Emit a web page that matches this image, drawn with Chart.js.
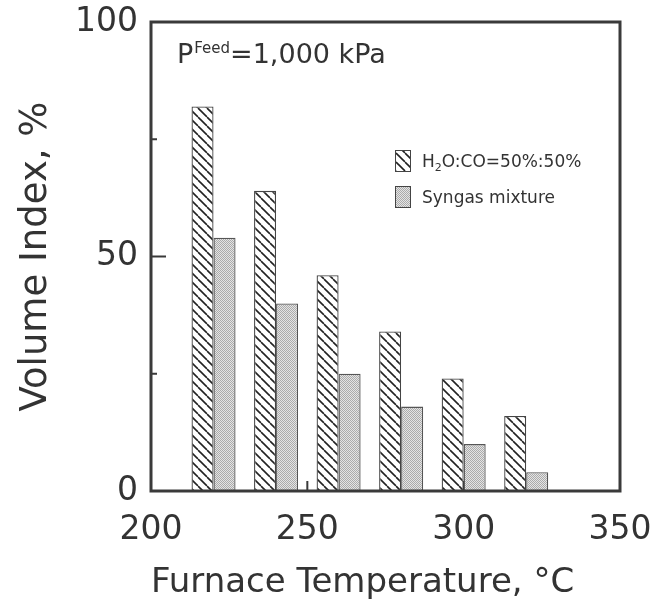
<!DOCTYPE html>
<html>
<head>
<meta charset="utf-8">
<title>Volume Index vs Furnace Temperature</title>
<script src="https://cdn.jsdelivr.net/npm/chart.js@4.4.1/dist/chart.umd.min.js"></script>
<style>
    html, body { margin: 0; padding: 0; background: #fff; }
    #wrap { width: 653px; height: 606px; }
</style>
</head>
<body>
<div id="wrap"><canvas id="chart" width="653" height="606"></canvas></div>
<script>
(function () {
    'use strict';

    // ── Data ──────────────────────────────────────────────────
    var temperatures = [220, 240, 260, 280, 300, 320];
    var h2oCoValues  = [82, 64, 46, 34, 24, 16];
    var syngasValues = [54, 40, 25, 18, 10, 4];
    var seriesLabels = ['H₂O:CO=50%:50%', 'Syngas mixture'];
    var xTicks       = [200, 250, 300, 350];
    var yTicks       = [0, 50, 100];
    var yMinorTicks  = [25, 75];
    var xMinorTicks  = [225, 275, 325];

    var INK  = '#3a3a3a';
    var TEXT = '#333';
    var FONT = '"DejaVu Sans", Verdana, sans-serif';

    // ── Fill patterns ─────────────────────────────────────────
    function hatchPattern() {
        var s = 9;
        var c = document.createElement('canvas');
        c.width = s; c.height = s;
        var g = c.getContext('2d');
        g.fillStyle = '#fff';
        g.fillRect(0, 0, s, s);
        g.strokeStyle = '#222';
        g.lineWidth = 1.6;
        for (var k = -1; k <= 1; k++) {
            g.beginPath();
            g.moveTo(k * s, 0);
            g.lineTo(k * s + s, s);
            g.stroke();
        }
        return g.createPattern(c, 'repeat');
    }

    function stipplePattern() {
        var c = document.createElement('canvas');
        c.width = 2; c.height = 2;
        var g = c.getContext('2d');
        g.fillStyle = '#e4e4e4';
        g.fillRect(0, 0, 2, 2);
        g.fillStyle = '#ababab';
        g.fillRect(0, 0, 1, 1);
        g.fillRect(1, 1, 1, 1);
        return g.createPattern(c, 'repeat');
    }

    function points(values) {
        return temperatures.map(function (t, i) { return { x: t, y: values[i] }; });
    }

    // ── Frame, inward ticks, annotation and legend ────────────
    var framePlugin = {
        id: 'frame',
        beforeDatasetsDraw: function (chart) {
            var ctx = chart.ctx, a = chart.chartArea;
            var xs = chart.scales.x, ys = chart.scales.y;
            ctx.save();
            ctx.strokeStyle = INK;
            ctx.lineWidth = 2;
            ctx.beginPath();
            yTicks.forEach(function (v) {
                var py = ys.getPixelForValue(v);
                ctx.moveTo(a.left, py); ctx.lineTo(a.left + 15, py);
            });
            yMinorTicks.forEach(function (v) {
                var py = ys.getPixelForValue(v);
                ctx.moveTo(a.left, py); ctx.lineTo(a.left + 6, py);
            });
            xTicks.forEach(function (v) {
                var px = xs.getPixelForValue(v);
                ctx.moveTo(px, a.bottom); ctx.lineTo(px, a.bottom - 10);
            });
            xMinorTicks.forEach(function (v) {
                var px = xs.getPixelForValue(v);
                ctx.moveTo(px, a.bottom); ctx.lineTo(px, a.bottom - 5);
            });
            ctx.stroke();
            ctx.restore();
        },
        afterDatasetsDraw: function (chart) {
            var ctx = chart.ctx, a = chart.chartArea;
            ctx.save();
            ctx.strokeStyle = INK;
            ctx.lineWidth = 3;
            ctx.strokeRect(a.left, a.top, a.right - a.left, a.bottom - a.top);

            // P^Feed = 1,000 kPa
            ctx.fillStyle = TEXT;
            ctx.textBaseline = 'alphabetic';
            var x = a.left + 26, y = a.top + 41;
            ctx.font = '27px ' + FONT;
            ctx.fillText('P', x, y);
            x += ctx.measureText('P').width + 1;
            ctx.font = '15px ' + FONT;
            ctx.fillText('Feed', x, y - 10);
            x += ctx.measureText('Feed').width;
            ctx.font = '27px ' + FONT;
            ctx.fillText('=1,000 kPa', x, y);

            // legend
            var bx = a.left + 244, by = a.top + 128;
            chart.data.datasets.forEach(function (ds, i) {
                var top = by + i * 36;
                ctx.fillStyle = ds.backgroundColor;
                ctx.fillRect(bx, top, 16, 22);
                ctx.strokeStyle = '#444';
                ctx.lineWidth = 1;
                ctx.strokeRect(bx + 0.5, top + 0.5, 15, 21);

                ctx.fillStyle = TEXT;
                var tx = bx + 27, ty = top + 17;
                var label = ds.label;
                var sub = label.indexOf('₂');
                ctx.font = '17px ' + FONT;
                if (sub >= 0) {
                    var head = label.slice(0, sub), tail = label.slice(sub + 1);
                    ctx.fillText(head, tx, ty);
                    tx += ctx.measureText(head).width;
                    ctx.font = '11px ' + FONT;
                    ctx.fillText('2', tx, ty + 4);
                    tx += ctx.measureText('2').width;
                    ctx.font = '17px ' + FONT;
                    ctx.fillText(tail, tx, ty);
                } else {
                    ctx.fillText(label, tx, ty);
                }
            });
            ctx.restore();
        }
    };

    new Chart(document.getElementById('chart'), {
        type: 'bar',
        data: {
            datasets: [{
                label: seriesLabels[0],
                data: points(h2oCoValues),
                backgroundColor: hatchPattern(),
                borderColor: '#444',
                borderWidth: 1.3
            }, {
                label: seriesLabels[1],
                data: points(syngasValues),
                backgroundColor: stipplePattern(),
                borderColor: '#555',
                borderWidth: 1.3
            }]
        },
        options: {
            responsive: false,
            animation: false,
            categoryPercentage: 0.704,
            barPercentage: 1,
            layout: { padding: { top: 22, right: 33, left: 0, bottom: 0 } },
            plugins: {
                legend: { display: false },
                tooltip: { enabled: false }
            },
            scales: {
                x: {
                    type: 'linear',
                    min: 200,
                    max: 350,
                    offset: false,
                    afterBuildTicks: function (s) { s.ticks = xTicks.map(function (v) { return { value: v }; }); },
                    afterFit: function (s) { s.height = 115; s.paddingLeft = 0; s.paddingRight = 0; },
                    grid: { display: false, drawTicks: false },
                    border: { display: false },
                    ticks: { color: TEXT, padding: 20, maxRotation: 0, font: { family: FONT, size: 33 } },
                    title: {
                        display: true,
                        text: 'Furnace Temperature, °C',
                        align: 'start',
                        color: TEXT,
                        padding: { top: 0, bottom: 2 },
                        font: { family: FONT, size: 34 }
                    }
                },
                y: {
                    min: 0,
                    max: 100,
                    afterBuildTicks: function (s) { s.ticks = yTicks.map(function (v) { return { value: v }; }); },
                    afterFit: function (s) { s.width = 151; s.paddingTop = 0; s.paddingBottom = 0; },
                    grid: { display: false, drawTicks: false },
                    border: { display: false },
                    ticks: { color: TEXT, padding: 13, font: { family: FONT, size: 33 } },
                    title: {
                        display: true,
                        text: 'Volume Index, %',
                        color: TEXT,
                        padding: { top: 14, bottom: 0 },
                        font: { family: FONT, size: 37 }
                    }
                }
            }
        },
        plugins: [framePlugin]
    });
}());
</script>
</body>
</html>
